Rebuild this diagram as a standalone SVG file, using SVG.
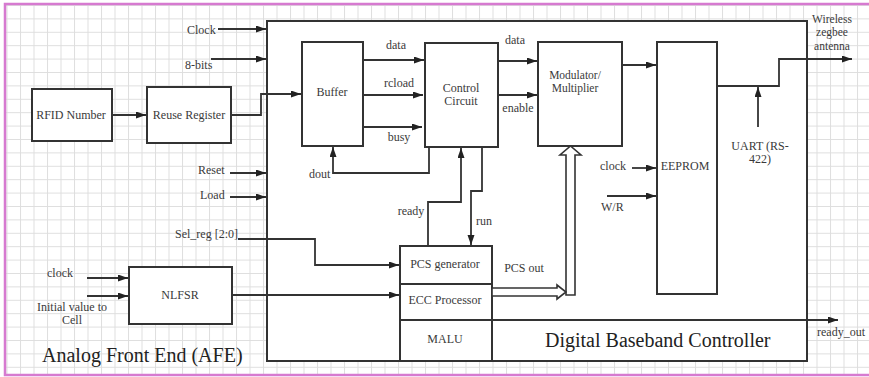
<svg xmlns="http://www.w3.org/2000/svg" width="869" height="377" viewBox="0 0 869 377">
<defs>
<pattern id="grid" x="6.5" y="5" width="13.5" height="13.4" patternUnits="userSpaceOnUse">
<path d="M0.5 0V13.4M0 0.5H13.5" fill="none" stroke="#dedede" stroke-width="1"/>
</pattern>
<marker id="arr" markerUnits="userSpaceOnUse" markerWidth="11" markerHeight="8" refX="10" refY="3.5" orient="auto">
<path d="M0 0L10 3.5L0 7z" fill="#222"/>
</marker>
<style>
.box{fill:#fff;stroke:#333;stroke-width:2}
.ln{fill:none;stroke:#333;stroke-width:1.8}
.ar{fill:none;stroke:#333;stroke-width:1.8;marker-end:url(#arr)}
.hol{fill:#fff;stroke:#333;stroke-width:1.6}
text{font-family:"Liberation Serif","Times New Roman",serif;fill:#3a3a3a;font-size:12px}
.c{text-anchor:middle}
.sm{font-size:11.5px}
.big{font-size:20px;fill:#222}
</style>
</defs>
<rect x="0" y="0" width="869" height="377" fill="#fff"/>
<rect x="5" y="4" width="880" height="371" fill="url(#grid)"/>
<rect x="5" y="4" width="880" height="371" fill="none" stroke="#d67ad0" stroke-width="2.5"/>

<g id="dbc">
<rect class="box" x="267" y="21" width="540" height="340"/>
<text class="big" x="545" y="347">Digital Baseband Controller</text>
</g>
<text class="big" x="42" y="362">Analog Front End (AFE)</text>

<g id="rfid"><rect class="box" x="32" y="89" width="80" height="52"/><text class="c" x="71" y="119">RFID Number</text></g>
<g id="reuse"><rect class="box" x="147" y="87" width="84" height="56"/><text class="c" x="189" y="119">Reuse Register</text></g>
<g id="nlfsr"><rect class="box" x="129" y="267" width="103" height="57"/><text class="c" x="180" y="299">NLFSR</text></g>
<g id="buffer"><rect class="box" x="302" y="42" width="61" height="104"/><text class="c" x="332" y="96">Buffer</text></g>
<g id="control"><rect class="box" x="425" y="43" width="73" height="104"/><text class="c" x="461" y="92">Control</text><text class="c" x="461" y="105">Circuit</text></g>
<g id="modulator"><rect class="box" x="538" y="42" width="84" height="104"/><text class="c sm" x="575" y="79">Modulator/</text><text class="c sm" x="575" y="92">Multiplier</text></g>
<g id="eeprom"><rect class="box" x="657" y="42" width="60" height="252"/><text class="c" x="685" y="170">EEPROM</text></g>
<g id="pcs"><rect class="box" x="400" y="246" width="92" height="38"/><text class="c" x="445" y="268">PCS generator</text></g>
<g id="ecc"><rect class="box" x="400" y="284" width="92" height="36"/><text class="c" x="445" y="304">ECC Processor</text></g>
<g id="malu"><rect class="box" x="400" y="320" width="92" height="41"/><text class="c" x="445" y="343">MALU</text></g>

<g id="connectors">
<path class="ar" d="M218 29H266"/>
<path class="ar" d="M211 59H266"/>
<path class="ar" d="M112 115H146"/>
<path class="ar" d="M231 115H261V94H301"/>
<path class="ar" d="M230 173H266"/>
<path class="ar" d="M230 197H266"/>
<path class="ar" d="M238 239H315V265H399"/>
<path class="ar" d="M87 278H128"/>
<path class="ar" d="M87 296H128"/>
<path class="ar" d="M232 295H399"/>
<path class="ar" d="M363 60H424"/>
<path class="ar" d="M363 95H423"/>
<path class="ar" d="M363 127H422"/>
<path class="ar" d="M429 147V173H333V147"/>
<path class="ar" d="M498 61H537"/>
<path class="ar" d="M498 95H537"/>
<path class="ar" d="M622 65H656"/>
<path class="ar" d="M632 168H656"/>
<path class="ar" d="M607 196H656"/>
<path class="ar" d="M717 86H779V59H852"/>
<path class="ar" d="M758 127V87"/>
<path class="ar" d="M428 246V202H461V148"/>
<path class="ar" d="M482 147V191H471V245"/>
<path class="ar" d="M492 320H838"/>
<polygon class="hol" points="566,295 566,155 560,155 570.5,146 581,155 575,155 575,295"/>
<polygon class="hol" points="492,288 557,288 557,285 566,292 557,299 557,296 492,296"/>
</g>

<g id="labels">
<text x="187" y="34">Clock</text>
<text x="185" y="69">8-bits</text>
<text x="198" y="174">Reset</text>
<text x="200" y="199">Load</text>
<text x="175" y="238">Sel_reg [2:0]</text>
<text x="47" y="277">clock</text>
<text class="c" x="72" y="311">Initial value to</text>
<text class="c" x="72" y="324">Cell</text>
<text class="c" x="396" y="49">data</text>
<text class="c" x="399" y="87">rcload</text>
<text class="c" x="399" y="141">busy</text>
<text x="309" y="178">dout</text>
<text class="c" x="515" y="44">data</text>
<text class="c" x="518" y="112">enable</text>
<text x="600" y="170">clock</text>
<text x="601" y="211">W/R</text>
<text class="c" x="760" y="150">UART (RS-</text>
<text class="c" x="760" y="163">422)</text>
<text class="c sm" x="832" y="23">Wireless</text>
<text class="c sm" x="832" y="36">zegbee</text>
<text class="c sm" x="832" y="50">antenna</text>
<text class="c" x="411" y="215">ready</text>
<text class="c" x="484" y="225">run</text>
<text class="c" x="524" y="272">PCS out</text>
<text x="817" y="336">ready_out</text>
</g>
</svg>
